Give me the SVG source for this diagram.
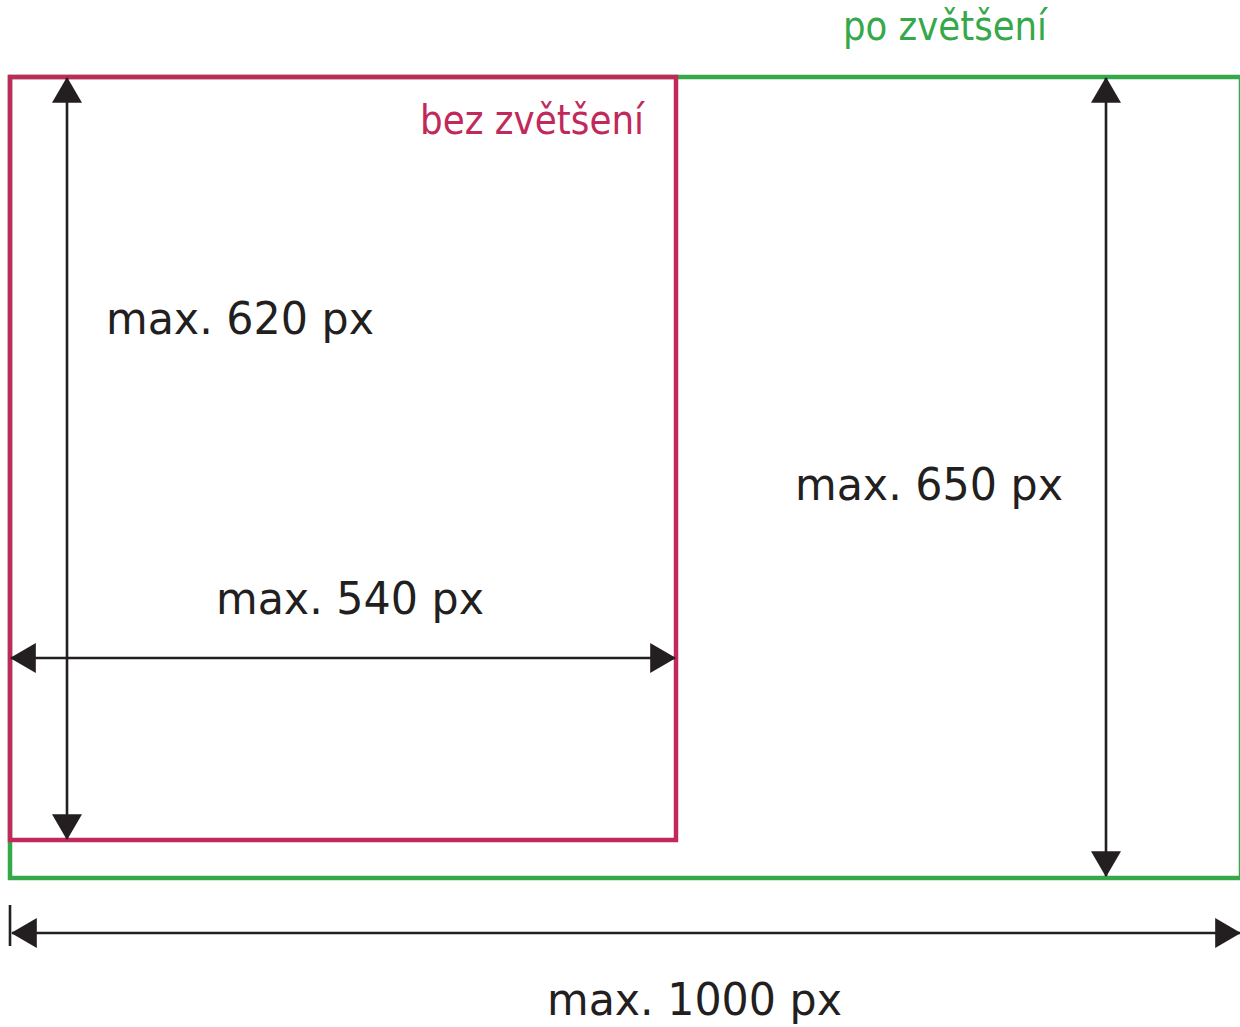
<svg xmlns="http://www.w3.org/2000/svg" width="1240" height="1027" viewBox="0 0 1240 1027">
<style>
.lbl{font-family:"DejaVu Sans Condensed","DejaVu Sans",sans-serif;}
.dim{font-size:45px;fill:#231f20;}
.cap{font-size:40px;}
.dl{stroke:#231f20;stroke-width:2.6;fill:none;}
</style>
<defs>
<marker id="ah" markerUnits="userSpaceOnUse" markerWidth="26" markerHeight="30" viewBox="0 0 25 29" refX="24" refY="14.5" orient="auto-start-reverse">
<path d="M0,0 L25,14.5 L0,29 z" fill="#231f20"/>
</marker>
</defs>
<rect width="1240" height="1027" fill="#ffffff"/>
<g id="po-zvetseni">
<rect x="10" y="77" width="1231" height="801" fill="none" stroke="#35a84a" stroke-width="4.5"/>
<text class="lbl cap" x="843" y="40" fill="#35a84a" textLength="204" lengthAdjust="spacingAndGlyphs">po zvětšení</text>
</g>
<g id="bez-zvetseni">
<rect x="10" y="77" width="666" height="763" fill="none" stroke="#c1295a" stroke-width="4.5"/>
<text class="lbl cap" x="420" y="134" fill="#c1295a" textLength="224" lengthAdjust="spacingAndGlyphs">bez zvětšení</text>
</g>
<g id="connectors">
<line class="dl" x1="67" y1="78" x2="67" y2="839" marker-start="url(#ah)" marker-end="url(#ah)"/>
<line class="dl" x1="11" y1="658" x2="675" y2="658" marker-start="url(#ah)" marker-end="url(#ah)"/>
<line class="dl" x1="1106" y1="78" x2="1106" y2="876" marker-start="url(#ah)" marker-end="url(#ah)"/>
<line class="dl" x1="12" y1="933" x2="1240" y2="933" marker-start="url(#ah)" marker-end="url(#ah)"/>
<line class="dl" x1="10" y1="905" x2="10" y2="946"/>
</g>
<g id="labels">
<text class="lbl dim" x="106" y="334" textLength="268" lengthAdjust="spacingAndGlyphs">max. 620 px</text>
<text class="lbl dim" x="216" y="614" textLength="268" lengthAdjust="spacingAndGlyphs">max. 540 px</text>
<text class="lbl dim" x="795" y="500" textLength="268" lengthAdjust="spacingAndGlyphs">max. 650 px</text>
<text class="lbl dim" x="547" y="1015" textLength="295" lengthAdjust="spacingAndGlyphs">max. 1000 px</text>
</g>
</svg>
